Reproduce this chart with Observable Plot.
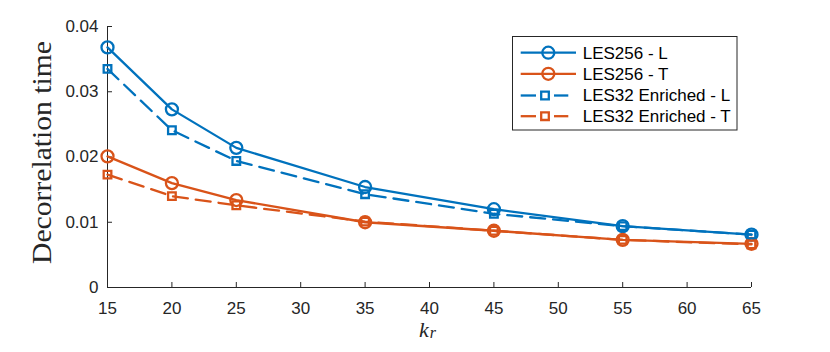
<!DOCTYPE html>
<html>
<head>
<meta charset="utf-8">
<script src="https://cdn.jsdelivr.net/npm/d3@7"></script>
<script src="https://cdn.jsdelivr.net/npm/@observablehq/plot@0.6"></script>
<style>
  html, body { margin: 0; padding: 0; background: #fff; }
  #chart { width: 830px; height: 352px; position: relative; }
</style>
</head>
<body>
<div id="chart"></div>
<script>
// ---- data ----
const kr = [15, 20, 25, 35, 45, 55, 65];
const les256L = [0.0368, 0.0273, 0.0214, 0.0154, 0.0120, 0.0094, 0.0081];
const les256T = [0.0201, 0.0160, 0.0134, 0.0100, 0.0087, 0.0073, 0.0067];
const les32L  = [0.0335, 0.0241, 0.0194, 0.0143, 0.0113, 0.0094, 0.0081];
const les32T  = [0.0173, 0.0140, 0.0126, 0.0101, 0.0087, 0.0073, 0.0066];
const seriesNames = ["LES256 - L", "LES256 - T", "LES32 Enriched - L", "LES32 Enriched - T"];
const xTicks = [15, 20, 25, 30, 35, 40, 45, 50, 55, 60, 65];
const yTicks = [0, 0.01, 0.02, 0.03, 0.04];
const yLabel = "Decorrelation time";
const xLabelMain = "k";
const xLabelSub = "r";

// ---- styles ----
const BLUE = "#0072BD", ORANGE = "#D95319", AX = "#262626";
const LW = 2.3;
const styles = [
  {color: BLUE, dash: null, symbol: "circle", r: 6},
  {color: ORANGE, dash: null, symbol: "circle", r: 6},
  {color: BLUE, dash: "15,8", symbol: "square", r: 4.3},
  {color: ORANGE, dash: "15,8", symbol: "square", r: 4.3}
];
const allSeries = [les256L, les256T, les32L, les32T];
const rows = allSeries.map((vals, i) => vals.map((v, j) => ({x: kr[j], y: v, s: seriesNames[i]})));

const marks = [];
rows.forEach((data, i) => {
  const st = styles[i];
  marks.push(Plot.line(data, {x: "x", y: "y", stroke: st.color, strokeWidth: LW, strokeDasharray: st.dash}));
});
rows.forEach((data, i) => {
  const st = styles[i];
  marks.push(Plot.dot(data, {x: "x", y: "y", stroke: st.color, strokeWidth: LW, fill: "none", symbol: st.symbol, r: st.r}));
});

const plot = Plot.plot({
  width: 830,
  height: 352,
  marginLeft: 107,
  marginRight: 79,
  marginTop: 26,
  marginBottom: 65,
  style: {fontFamily: "'Liberation Sans', Arial, sans-serif", fontSize: "17px", color: AX, background: "#fff"},
  x: {domain: [15, 65], label: null},
  y: {domain: [0, 0.04], label: null},
  marks: [
    // tick labels
    Plot.axisX({ticks: xTicks, tickSize: 0, tickPadding: 14, label: null, fontSize: 17, fill: AX}),
    Plot.axisY({ticks: yTicks, tickSize: 0, tickPadding: 9, label: null, fontSize: 17, fill: AX,
      tickFormat: d => d === 0 ? "0" : d.toFixed(2)}),
    // inward ticks
    Plot.axisX({ticks: xTicks, tickSize: 5, dy: -5, tickFormat: () => "", label: null, stroke: AX}),
    Plot.axisY({ticks: yTicks, tickSize: 5, dx: 5, tickFormat: () => "", label: null, stroke: AX}),
    // axis lines
    Plot.ruleY([0], {stroke: AX, strokeWidth: 1}),
    Plot.ruleX([15], {stroke: AX, strokeWidth: 1}),
    ...marks
  ]
});
document.getElementById("chart").appendChild(plot);

const svg = d3.select(plot);
const xs = plot.scale("x"), ys = plot.scale("y");
const x0 = xs.apply(15), x1 = xs.apply(65);
const yTop = ys.apply(0.04), yBot = ys.apply(0);

// y label
svg.append("text")
  .attr("transform", `translate(50.5,${(yTop + yBot) / 2 - 4}) rotate(-90)`)
  .attr("text-anchor", "middle")
  .attr("font-family", "'Liberation Serif', 'Times New Roman', serif")
  .attr("font-size", 27)
  .attr("fill", AX)
  .attr("textLength", 223)
  .attr("lengthAdjust", "spacingAndGlyphs")
  .text(yLabel);

// x label k_r
const xl = svg.append("text")
  .attr("x", (x0 + x1) / 2 - 10)
  .attr("y", 336.5)
  .attr("text-anchor", "start")
  .attr("font-family", "'Liberation Serif', 'Times New Roman', serif")
  .attr("font-style", "italic")
  .attr("fill", AX);
xl.append("tspan").attr("font-size", 22).text(xLabelMain);
xl.append("tspan").attr("font-size", 16).attr("dy", 1).attr("dx", 1).text(xLabelSub);

// legend
const lg = svg.append("g").attr("text-anchor", "start");
lg.append("rect").attr("x", 512.5).attr("y", 36.5).attr("width", 224.5).attr("height", 93.5)
  .attr("fill", "#fff").attr("stroke", AX).attr("stroke-width", 1);
const rowY = [52.7, 73.8, 95.5, 116.2];
seriesNames.forEach((name, i) => {
  const st = styles[i];
  const y = rowY[i];
  if (st.dash) {
    lg.append("line").attr("x1", 520.7).attr("x2", 536).attr("y1", y).attr("y2", y).attr("stroke", st.color).attr("stroke-width", LW);
    lg.append("line").attr("x1", 554).attr("x2", 568.3).attr("y1", y).attr("y2", y).attr("stroke", st.color).attr("stroke-width", LW);
  } else {
    lg.append("line").attr("x1", 520.7).attr("x2", 576).attr("y1", y).attr("y2", y).attr("stroke", st.color).attr("stroke-width", LW);
  }
  const sym = st.symbol === "circle" ? d3.symbolCircle : d3.symbolSquare;
  const cx = st.symbol === "circle" ? 548.3 : 545;
  const size = Math.PI * st.r * st.r;
  lg.append("path").attr("d", d3.symbol(sym, size)()).attr("transform", `translate(${cx},${y})`)
    .attr("fill", "none").attr("stroke", st.color).attr("stroke-width", LW);
  lg.append("text").attr("x", 582.7).attr("y", y).attr("dy", "0.35em").attr("text-anchor", "start")
    .attr("font-family", "'Liberation Sans', Arial, sans-serif").attr("font-size", 17).attr("fill", "#000")
    .text(name);
});
</script>
</body>
</html>
